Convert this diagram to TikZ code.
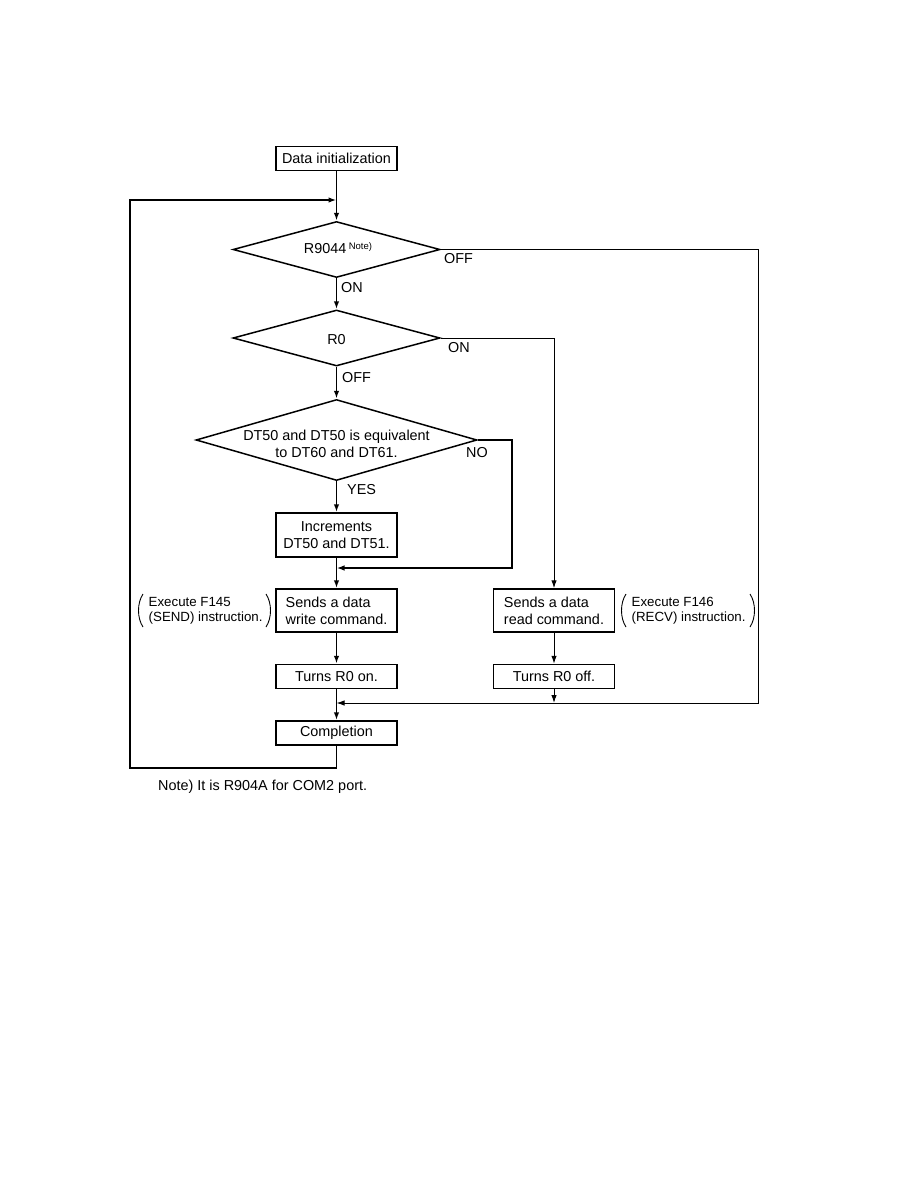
\documentclass[tikz,border=0pt]{standalone}
\usepackage{fontspec}
\setmainfont{Liberation Sans}
\usetikzlibrary{shapes.geometric,arrows.meta}
\begin{document}
\begin{tikzpicture}[x=1pt,y=-1pt,
  every node/.style={font=\fontsize{14.4}{17}\selectfont},
  box/.style={draw, line width=1.5pt, minimum width=121pt, minimum height=24pt, inner sep=2pt},
  dia/.style={draw, diamond, line width=1.5pt, inner sep=0pt},
  flow/.style={line width=1.6pt, -{Latex[length=8pt,width=5.5pt]}},
  thinflow/.style={line width=1.0pt, -{Latex[length=8pt,width=5.5pt]}},
  lbl/.style={anchor=west, inner sep=0pt},
  paren/.style={line width=0.9pt},
]
\useasboundingbox[fill=white] (0,0) rectangle (918,1188);

% nodes
\node[box] (init) at (336.5,158.5) {Data initialization};
\node[dia, minimum width=207pt, minimum height=56pt] (d1) at (336.5,249.5) {};
\node[inner sep=0pt] (d1t) at (338,248) {R9044\,\raisebox{4pt}{\fontsize{9.5}{10}\selectfont Note)}};
\node[dia, minimum width=207pt, minimum height=56pt] (d2) at (336.5,338) {};
\node[inner sep=0pt] (d2t) at (336.5,340) {R0};
\node[dia, minimum width=281pt, minimum height=81pt] (d3) at (336.5,440) {};
\node[align=center, inner sep=0pt] (d3t) at (336.5,444) {DT50 and DT50 is equivalent\\to DT60 and DT61.};
\node[box, minimum height=44pt, align=center] (inc) at (336.5,535) {Increments\\DT50 and DT51.};
\node[box, minimum height=43pt, align=left] (send) at (336.5,610.5) {Sends a data\\write command.};
\node[box, minimum height=43pt, align=left] (read) at (554,610.5) {Sends a data\\read command.};
\node[box] (ron) at (336.5,676.5) {Turns R0 on.};
\node[box] (roff) at (554,676.5) {Turns R0 off.};
\node[box] (comp) at (336.5,733) {Completion};

% helper coordinates
\coordinate (lp) at (336.5,200);
\coordinate (m1) at (336.5,568);
\coordinate (m2) at (336.5,703);
\coordinate (noc) at (512,568);
\coordinate (offc) at (758,703);
\coordinate (lb) at (130,768);

% main flow
\draw[flow] (init) -- (d1.north);
\draw[flow] (d1.south) -- (d2.north);
\draw[flow] (d2.south) -- (d3.north);
\draw[flow] (d3.south) -- (inc.north);
\draw[flow] (inc.south) -- (send.north);
\draw[flow] (send.south) -- (ron.north);
\draw[flow] (ron.south) -- (comp.north);
\draw[flow] (comp.south) |- (lb) |- (lp);

% branches
\draw[flow] (d3.east) -| (noc) -- (m1);
\draw[thinflow] (d2.east) -| (read.north);
\draw[thinflow] (read.south) -- (roff.north);
\draw[thinflow] (roff.south) -- (roff.south |- m2);
\draw[thinflow] (d1.east) -| (offc) -- (m2);

% branch labels
\node[lbl] (l1) at (444,259) {OFF};
\node[lbl] (l2) at (341,288) {ON};
\node[lbl] (l3) at (448,348) {ON};
\node[lbl] (l4) at (342,378) {OFF};
\node[lbl] (l5) at (466,453) {NO};
\node[lbl] (l6) at (347,490) {YES};

% annotations
\draw[paren] (143,594) .. controls (137,603) and (137,618) .. (143,627);
\draw[paren] (266,594) .. controls (272,603) and (272,618) .. (266,627);
\node[lbl, align=left, font=\fontsize{13.3}{15}\selectfont] (a1) at (148.5,610.5) {Execute F145\\(SEND) instruction.};
\draw[paren] (626,594) .. controls (620,603) and (620,618) .. (626,627);
\draw[paren] (750,594) .. controls (756,603) and (756,618) .. (750,627);
\node[lbl, align=left, font=\fontsize{13.3}{15}\selectfont] (a2) at (631.5,610.5) {Execute F146\\(RECV) instruction.};

% note
\node[lbl] (note) at (158,787) {Note) It is R904A for COM2 port.};
\end{tikzpicture}
\end{document}
